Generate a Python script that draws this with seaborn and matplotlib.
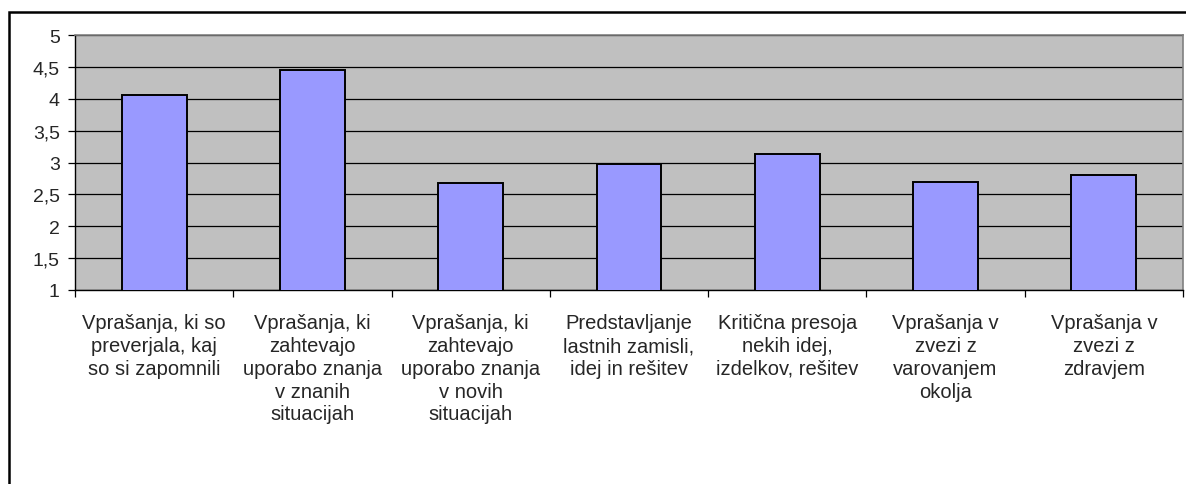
import matplotlib
matplotlib.use("Agg")
import matplotlib.pyplot as plt
import matplotlib.ticker as mticker
from matplotlib.patches import Rectangle
import seaborn as sns
import pandas as pd

# ── Data ──────────────────────────────────────
categories = [
    "Vprašanja, ki so\npreverjala, kaj\nso si zapomnili",
    "Vprašanja, ki\nzahtevajo\nuporabo znanja\nv znanih\nsituacijah",
    "Vprašanja, ki\nzahtevajo\nuporabo znanja\nv novih\nsituacijah",
    "Predstavljanje\nlastnih zamisli,\nidej in rešitev",
    "Kritična presoja\nnekih idej,\nizdelkov, rešitev",
    "Vprašanja v\nzvezi z\nvarovanjem\nokolja",
    "Vprašanja v\nzvezi z\nzdravjem",
]
values = [4.06, 4.46, 2.68, 2.98, 3.13, 2.70, 2.80]
y_ticks = [1, 1.5, 2, 2.5, 3, 3.5, 4, 4.5, 5]

df = pd.DataFrame({"cat": categories, "val": values})

# ── Style ──────────────────────────────────────
sns.set_style("white")
plt.rcParams["font.family"] = ["Liberation Sans", "DejaVu Sans"]

fig = plt.figure(figsize=(11.86, 4.85), dpi=100)
ax = fig.add_axes([75 / 1186, 1 - 290.7 / 485, (1183 - 75) / 1186, (290.7 - 36.3) / 485])

ax.set_facecolor("#C0C0C0")
ax.set_ylim(1, 5)
ax.set_yticks(y_ticks)
ax.yaxis.grid(True, color="black", linewidth=0.9)
ax.set_axisbelow(True)

sns.barplot(data=df, x="cat", y="val", color="#9999FF", saturation=1,
            width=0.41, edgecolor="black", linewidth=1.4, ax=ax, zorder=3)
ax.set_xlim(-0.5, len(categories) - 0.5)

ax.yaxis.set_major_formatter(mticker.FuncFormatter(
    lambda v, _: (f"{v:g}").replace(".", ",")))
ax.tick_params(axis="y", which="major", length=5, width=0.9, color="black",
               pad=6, labelsize=14, left=True)

# category labels at centres, tick marks at boundaries
ax.tick_params(axis="x", which="major", length=0, pad=17, labelsize=14.5)
for lab in ax.get_xticklabels():
    lab.set_linespacing(1.25)
ax.set_xticks([i - 0.5 for i in range(len(categories) + 1)], minor=True)
ax.tick_params(axis="x", which="minor", length=5, width=0.9, color="black", bottom=True)

ax.set_xlabel("")
ax.set_ylabel("")

for side in ["top", "right"]:
    ax.spines[side].set_color("#808080")
    ax.spines[side].set_linewidth(1.2)
for side in ["left", "bottom"]:
    ax.spines[side].set_color("black")
    ax.spines[side].set_linewidth(1.0)

# outer chart frame (cut off at right and bottom)
fig.patches.append(Rectangle((9 / 1186, -0.2), 1.2, 1.2 - 13 / 485,
                             transform=fig.transFigure, fill=False,
                             edgecolor="black", linewidth=1.8))

fig.savefig("out.png", dpi=100)
